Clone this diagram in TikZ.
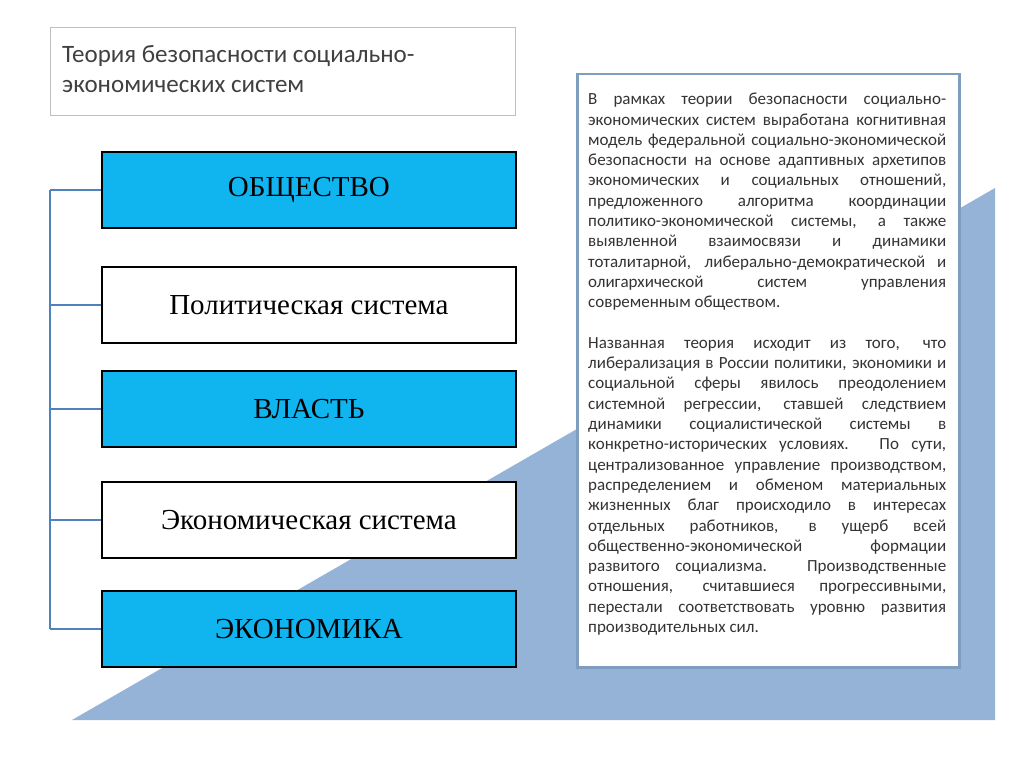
\documentclass[tikz,border=0pt]{standalone}
\usepackage{fontspec}
\setmainfont{Liberation Serif}
\newfontfamily\calfont{Carlito}
\definecolor{cyanbox}{HTML}{10B4EE}
\definecolor{bgtri}{HTML}{95B3D7}
\definecolor{linkc}{HTML}{4F81BD}
\definecolor{tbord}{HTML}{7F9DBF}
\begin{document}
\begin{tikzpicture}[x=1pt,y=-1pt,
  box/.style={draw=black,line width=1.8pt,minimum width=414pt,minimum height=76pt,anchor=north west,inner sep=0pt,font=\fontsize{29}{32}\selectfont},
  cbox/.style={box,fill=cyanbox},
  wbox/.style={box,fill=white},
  link/.style={draw=linkc,line width=2.5pt}]
\useasboundingbox (0,0) rectangle (1024,767);
\fill[white] (0,0) rectangle (1024,767);
\fill[bgtri] (72,720) -- (995,188) -- (995,720) -- cycle;
\node[draw=black!25,line width=0.6pt,minimum width=465pt,minimum height=88pt,anchor=north west,inner sep=0pt] (title) at (50,27) {};
\node[anchor=north west,align=left,font=\calfont\fontsize{25}{30}\selectfont,text=black!75,inner sep=0pt] (tt) at (62,45) {Теория безопасности социально-\\экономических систем};
\node[draw=tbord,fill=white,line width=2.5pt,minimum width=382pt,minimum height=593pt,anchor=north west,inner sep=0pt] (tb) at (576,73) {};
\node[anchor=north west,inner sep=0pt,text=black!80] (txt) at (588,93) {\parbox[t]{358pt}{\calfont\fontsize{17}{20.3}\selectfont\parindent=0pt\parskip=20.3pt
В рамках теории безопасности социально-\linebreak экономических систем выработана когнитивная\linebreak модель федеральной социально-экономической\linebreak безопасности на основе адаптивных архетипов\linebreak экономических и социальных отношений,\linebreak предложенного алгоритма координации\linebreak политико-экономической системы, а также\linebreak выявленной взаимосвязи и динамики\linebreak тоталитарной, либерально-демократической и\linebreak олигархической систем управления\linebreak современным обществом.

Названная теория исходит из того, что\linebreak либерализация в России политики, экономики и\linebreak социальной сферы явилось преодолением\linebreak системной регрессии, ставшей следствием\linebreak динамики социалистической системы в\linebreak конкретно-исторических условиях. По сути,\linebreak централизованное управление производством,\linebreak распределением и обменом материальных\linebreak жизненных благ происходило в интересах\linebreak отдельных работников, в ущерб всей\linebreak общественно-экономической формации\linebreak развитого социализма. Производственные\linebreak отношения, считавшиеся прогрессивными,\linebreak перестали соответствовать уровню развития\linebreak производительных сил.}};
\node[cbox] (b1) at (101,151) {ОБЩЕСТВО};
\node[wbox] (b2) at (101,266) {Политическая система};
\node[cbox] (b3) at (101,370) {ВЛАСТЬ};
\node[wbox] (b4) at (101,481) {Экономическая система};
\node[cbox] (b5) at (101,590) {ЭКОНОМИКА};
\coordinate (top) at (50,0 |- b1.west);
\coordinate (bot) at (50,0 |- b5.west);
\draw[link] (top) -- (bot);
\foreach \b in {b1,b2,b3,b4,b5} \draw[link] (50,0 |- \b.west) -- (\b.west);
\end{tikzpicture}
\end{document}
